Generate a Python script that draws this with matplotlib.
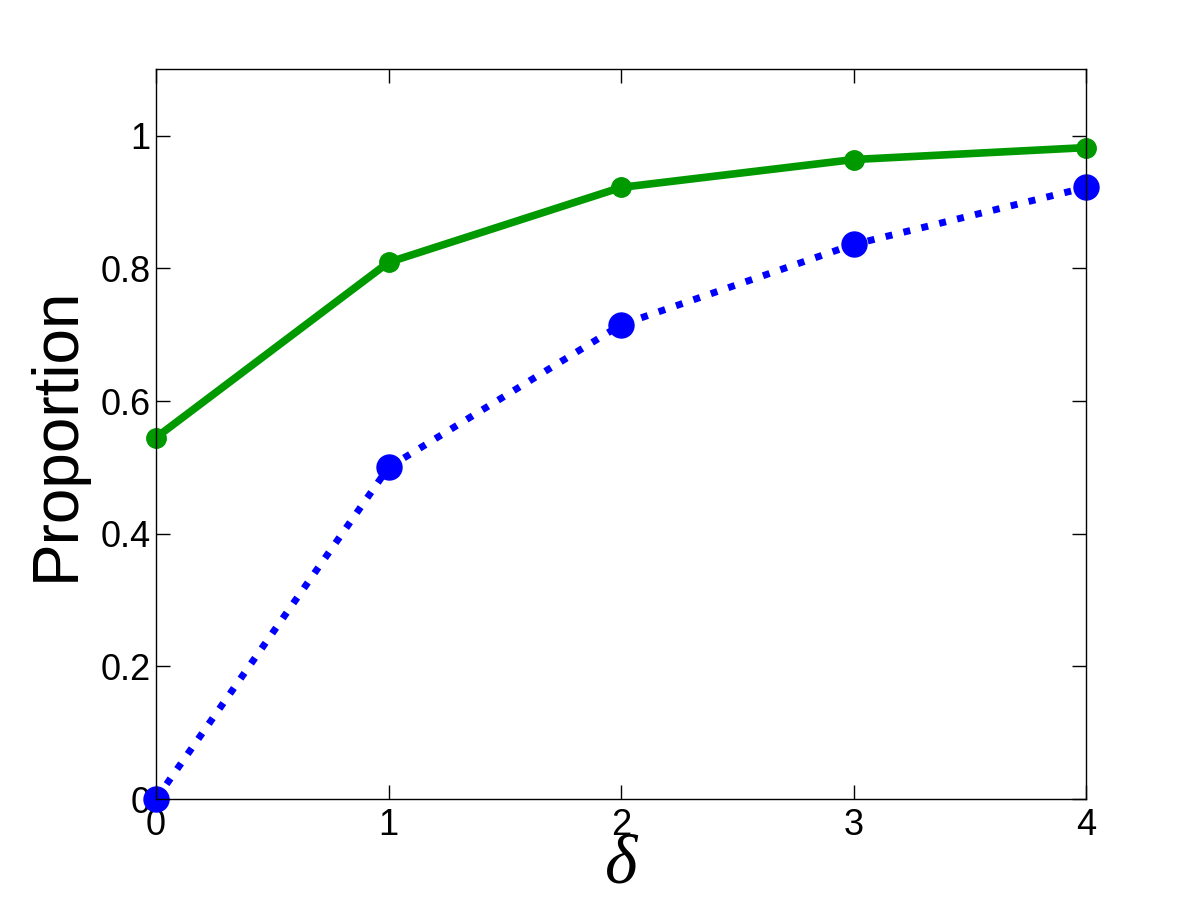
import matplotlib
matplotlib.use('Agg')
import matplotlib.pyplot as plt

# Daten
delta = [0, 1, 2, 3, 4]
gruen = [0.545, 0.809, 0.922, 0.964, 0.982]
blau = [0.0, 0.50, 0.715, 0.836, 0.922]

plt.rcParams['font.family'] = ['Liberation Sans', 'DejaVu Sans']

fig = plt.figure(figsize=(12, 9), dpi=100)
ax = fig.add_axes([0.13, 0.112, 0.775, 0.811])

ax.plot(delta, gruen, '-o', color='#009900', linewidth=5.5, markersize=14,
        markerfacecolor='#009900', markeredgecolor='#009900', clip_on=False)
ax.plot(delta, blau, ':', color='#0000ff', linewidth=5, marker='o', markersize=18,
        markerfacecolor='#0000ff', markeredgecolor='#0000ff', clip_on=False)

ax.set_xlim(0, 4)
ax.set_ylim(0, 1.1)
ax.set_xticks([0, 1, 2, 3, 4])
ax.set_yticks([0, 0.2, 0.4, 0.6, 0.8, 1])
ax.set_yticklabels(['0', '0.2', '0.4', '0.6', '0.8', '1'])
ax.tick_params(direction='in', top=True, right=True, labelsize=26, length=10, width=1)
ax.tick_params(axis='x', pad=6)
ax.tick_params(axis='y', pad=4)
for s in ax.spines.values():
    s.set_linewidth(1)

ax.set_ylabel('Proportion', fontsize=46, labelpad=10)
ax.set_xlabel('δ', fontsize=50, family=['Liberation Serif', 'DejaVu Serif'],
              style='italic', labelpad=-6)

fig.savefig('out.png', dpi=100)
